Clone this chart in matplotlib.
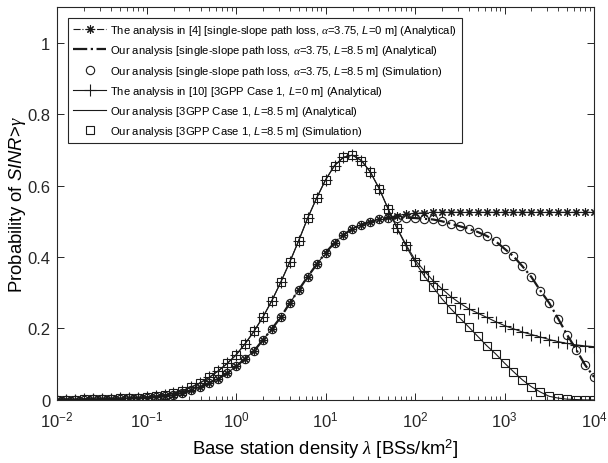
import numpy as np
import matplotlib
matplotlib.use("Agg")
import matplotlib.pyplot as plt
from matplotlib.ticker import LogLocator, FixedLocator, NullFormatter

plt.rcParams["font.family"] = ["Liberation Sans", "DejaVu Sans"]
plt.rcParams["mathtext.fontset"] = "custom"
plt.rcParams["mathtext.rm"] = "Liberation Sans"
plt.rcParams["mathtext.it"] = "Liberation Serif:italic"
plt.rcParams["mathtext.sf"] = "Liberation Sans:italic"

# base station density: 10 points per decade, 1e-2 .. 1e4
log_density = np.arange(61) / 10.0 - 2.0
density = 10.0 ** log_density

# single-slope, [4], L=0 (analytical)
p_ss_ref = [0.001, 0.001, 0.001, 0.001, 0.002, 0.002, 0.003, 0.003, 0.004, 0.005,
            0.006, 0.008, 0.010, 0.014, 0.020, 0.027, 0.036, 0.046, 0.059, 0.075,
            0.094, 0.115, 0.137, 0.168, 0.199, 0.232, 0.271, 0.308, 0.345, 0.379,
            0.412, 0.440, 0.462, 0.479, 0.490, 0.499, 0.505, 0.511, 0.516, 0.520,
            0.522, 0.524, 0.525, 0.525, 0.525, 0.525, 0.525, 0.525, 0.525, 0.525,
            0.525, 0.525, 0.525, 0.525, 0.525, 0.525, 0.525, 0.525, 0.525, 0.525,
            0.525]
# single-slope, ours, L=8.5 (analytical and simulation)
p_ss_ours = [0.001, 0.001, 0.001, 0.001, 0.002, 0.002, 0.003, 0.003, 0.004, 0.005,
             0.006, 0.008, 0.010, 0.014, 0.020, 0.027, 0.036, 0.046, 0.059, 0.075,
             0.094, 0.115, 0.137, 0.168, 0.199, 0.232, 0.271, 0.308, 0.345, 0.379,
             0.412, 0.440, 0.462, 0.479, 0.490, 0.499, 0.505, 0.508, 0.510, 0.510,
             0.509, 0.507, 0.505, 0.500, 0.493, 0.486, 0.479, 0.470, 0.459, 0.444,
             0.423, 0.402, 0.374, 0.344, 0.306, 0.271, 0.227, 0.182, 0.141, 0.098,
             0.064]
# 3GPP case 1, [10], L=0 (analytical)
p_3gpp_ref = [0.001, 0.001, 0.001, 0.002, 0.002, 0.003, 0.003, 0.004, 0.005, 0.006,
              0.008, 0.010, 0.014, 0.019, 0.026, 0.036, 0.048, 0.063, 0.081, 0.102,
              0.126, 0.157, 0.192, 0.232, 0.278, 0.330, 0.386, 0.446, 0.509, 0.565,
              0.616, 0.656, 0.679, 0.685, 0.670, 0.638, 0.591, 0.534, 0.480, 0.434,
              0.392, 0.362, 0.334, 0.311, 0.289, 0.271, 0.255, 0.243, 0.231, 0.219,
              0.208, 0.199, 0.190, 0.183, 0.176, 0.169, 0.163, 0.158, 0.154, 0.151,
              0.149]
# 3GPP case 1, ours, L=8.5 (analytical and simulation)
p_3gpp_ours = [0.001, 0.001, 0.001, 0.002, 0.002, 0.003, 0.003, 0.004, 0.005, 0.006,
               0.008, 0.010, 0.014, 0.019, 0.026, 0.036, 0.048, 0.063, 0.081, 0.102,
               0.126, 0.157, 0.192, 0.232, 0.278, 0.330, 0.386, 0.446, 0.509, 0.565,
               0.616, 0.656, 0.679, 0.685, 0.670, 0.638, 0.591, 0.534, 0.480, 0.430,
               0.386, 0.348, 0.316, 0.283, 0.255, 0.229, 0.204, 0.178, 0.152, 0.129,
               0.103, 0.079, 0.056, 0.037, 0.022, 0.010, 0.005, 0.002, 0.001, 0.000,
               0.000]

x_ticks = [1e-2, 1e-1, 1e0, 1e1, 1e2, 1e3, 1e4]
y_ticks = [0, 0.2, 0.4, 0.6, 0.8, 1.0]
y_ticklabels = ["0", "0.2", "0.4", "0.6", "0.8", "1"]

labels = [
    r"The analysis in [4] [single-slope path loss, $\alpha$=3.75, $\mathsf{L}$=0 m] (Analytical)",
    r"Our analysis [single-slope path loss, $\alpha$=3.75, $\mathsf{L}$=8.5 m] (Analytical)",
    r"Our analysis [single-slope path loss, $\alpha$=3.75, $\mathsf{L}$=8.5 m] (Simulation)",
    r"The analysis in [10] [3GPP Case 1, $\mathsf{L}$=0 m] (Analytical)",
    r"Our analysis [3GPP Case 1, $\mathsf{L}$=8.5 m] (Analytical)",
    r"Our analysis [3GPP Case 1, $\mathsf{L}$=8.5 m] (Simulation)",
]

fig = plt.figure(figsize=(6.08, 4.64), dpi=100)
ax = fig.add_axes([0.094, 0.136, 0.883, 0.847])

k = "0.1"
ax.plot(density, p_ss_ref, ls="-.", lw=0.8, color=k, marker=(8, 2, 0), ms=6,
        mew=0.8, mfc="none", mec=k, label=labels[0])
ax.plot(density, p_ss_ours, ls="-.", lw=1.6, color=k, label=labels[1])
ax.plot(density, p_ss_ours, ls="none", marker="o", ms=6, mew=0.8, mfc="none",
        mec=k, label=labels[2])
ax.plot(density, p_3gpp_ref, ls="-", lw=0.8, color=k, marker="+", ms=8,
        mew=0.8, label=labels[3])
ax.plot(density, p_3gpp_ours, ls="-", lw=0.8, color=k, label=labels[4])
ax.plot(density, p_3gpp_ours, ls="none", marker="s", ms=5.5, mew=0.8,
        mfc="none", mec=k, label=labels[5])

ax.set_xscale("log")
ax.set_xlim(1e-2, 1e4)
ax.set_ylim(0, 1.1)
ax.yaxis.set_major_locator(FixedLocator(y_ticks))
ax.set_yticklabels(y_ticklabels)
ax.xaxis.set_major_locator(FixedLocator(x_ticks))
ax.xaxis.set_minor_locator(LogLocator(base=10, subs=np.arange(2, 10), numticks=20))
ax.xaxis.set_minor_formatter(NullFormatter())

for s in ax.spines.values():
    s.set_color("0.15")
    s.set_linewidth(0.8)
ax.tick_params(which="both", direction="in", top=True, right=True,
               colors="0.15", labelsize=12)
ax.tick_params(which="major", length=5, width=0.7)
ax.tick_params(which="minor", length=3, width=0.6)
ax.tick_params(axis="x", pad=7)
ax.tick_params(axis="y", pad=5)

ax.set_xlabel(r"Base station density $\lambda$ [BSs/km$^{\mathrm{2}}$]",
              fontsize=13.3, labelpad=5)
ax.set_ylabel(r"Probability of $\mathsf{SINR}$>$\gamma$", fontsize=13.3,
              labelpad=-1)

leg = ax.legend(loc="upper left", fontsize=8.1, frameon=True, fancybox=False,
                edgecolor="0.15", framealpha=1, handlelength=2.9,
                handletextpad=0.36, borderaxespad=1.0, borderpad=0.45,
                labelspacing=0.55)
leg.get_frame().set_linewidth(0.8)

fig.savefig("out.png", dpi=100, facecolor="white")
